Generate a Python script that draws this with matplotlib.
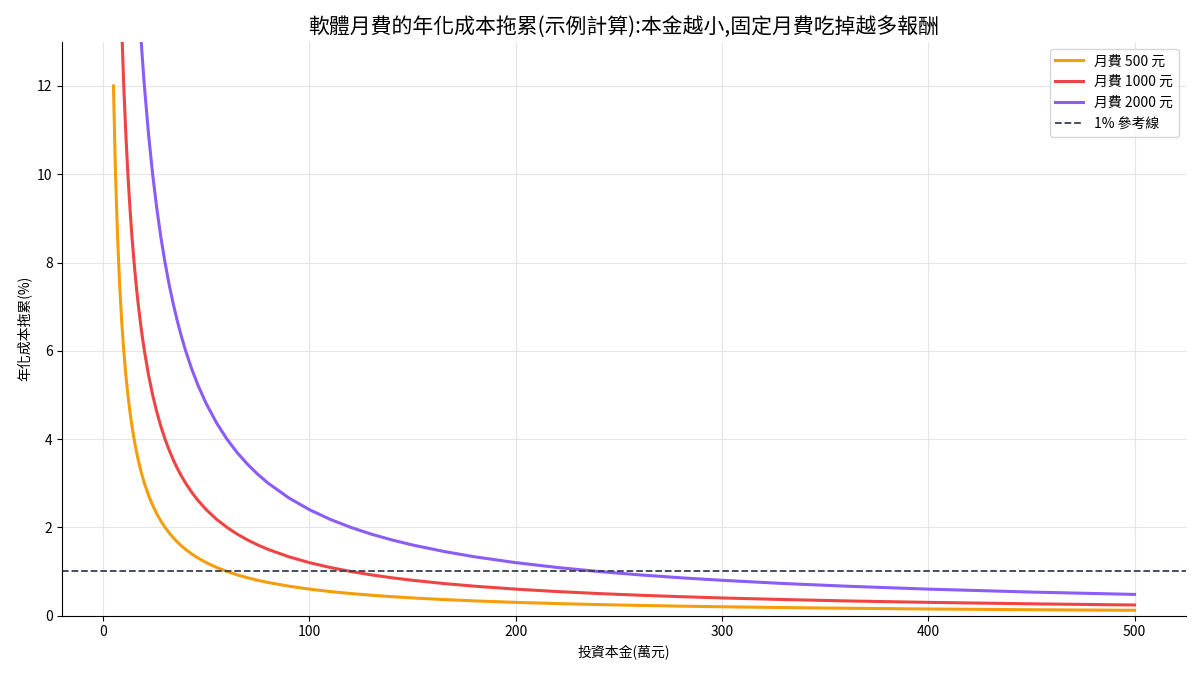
import matplotlib.pyplot as plt

plt.rcParams['font.family'] = ['Noto Sans CJK TC', 'DejaVu Sans']

# principal in 萬元, annual cost drag in %
principal = [5, 6, 7, 8, 9, 10, 11, 12, 13, 14, 15, 16, 17, 18, 19, 20,
             22, 24, 26, 28, 30, 32, 34, 36, 38, 40, 43, 46, 50, 55, 60, 65, 70, 75, 80,
             90, 100, 110, 120, 130, 140, 150, 165, 180, 200, 220, 240, 260, 280, 300,
             330, 360, 400, 450, 500]
drag_500 = [12.0, 10.0, 8.571, 7.5, 6.667, 6.0, 5.455, 5.0, 4.615, 4.286, 4.0, 3.75,
            3.529, 3.333, 3.158, 3.0, 2.727, 2.5, 2.308, 2.143, 2.0, 1.875, 1.765, 1.667,
            1.579, 1.5, 1.395, 1.304, 1.2, 1.091, 1.0, 0.923, 0.857, 0.8, 0.75, 0.667,
            0.6, 0.545, 0.5, 0.462, 0.429, 0.4, 0.364, 0.333, 0.3, 0.273, 0.25, 0.231,
            0.214, 0.2, 0.182, 0.167, 0.15, 0.133, 0.12]
drag_1000 = [24.0, 20.0, 17.143, 15.0, 13.333, 12.0, 10.909, 10.0, 9.231, 8.571, 8.0,
             7.5, 7.059, 6.667, 6.316, 6.0, 5.455, 5.0, 4.615, 4.286, 4.0, 3.75, 3.529,
             3.333, 3.158, 3.0, 2.791, 2.609, 2.4, 2.182, 2.0, 1.846, 1.714, 1.6, 1.5,
             1.333, 1.2, 1.091, 1.0, 0.923, 0.857, 0.8, 0.727, 0.667, 0.6, 0.545, 0.5,
             0.462, 0.429, 0.4, 0.364, 0.333, 0.3, 0.267, 0.24]
drag_2000 = [48.0, 40.0, 34.286, 30.0, 26.667, 24.0, 21.818, 20.0, 18.462, 17.143, 16.0,
             15.0, 14.118, 13.333, 12.632, 12.0, 10.909, 10.0, 9.231, 8.571, 8.0, 7.5,
             7.059, 6.667, 6.316, 6.0, 5.581, 5.217, 4.8, 4.364, 4.0, 3.692, 3.429, 3.2,
             3.0, 2.667, 2.4, 2.182, 2.0, 1.846, 1.714, 1.6, 1.455, 1.333, 1.2, 1.091,
             1.0, 0.923, 0.857, 0.8, 0.727, 0.667, 0.6, 0.533, 0.48]

series = [('月費 500 元', drag_500, '#f59e0b'),
          ('月費 1000 元', drag_1000, '#ef4444'),
          ('月費 2000 元', drag_2000, '#8b5cf6')]

fig, ax = plt.subplots(figsize=(12, 6.75), dpi=100)

for label, vals, color in series:
    ax.plot(principal, vals, color=color, linewidth=2.2, label=label)

ax.axhline(1, color='#374151', linestyle='--', linewidth=1.3, label='1% 參考線')

ax.set_ylim(0, 13)
ax.set_title('軟體月費的年化成本拖累(示例計算):本金越小,固定月費吃掉越多報酬', fontsize=15)
ax.set_xlabel('投資本金(萬元)')
ax.set_ylabel('年化成本拖累(%)')
ax.grid(True, color='#e5e5e5', linewidth=0.8)
ax.set_axisbelow(True)
ax.spines['top'].set_visible(False)
ax.spines['right'].set_visible(False)
ax.legend(loc='upper right')

fig.subplots_adjust(left=0.052, right=0.988, top=0.938, bottom=0.088)
fig.savefig('out.png')
